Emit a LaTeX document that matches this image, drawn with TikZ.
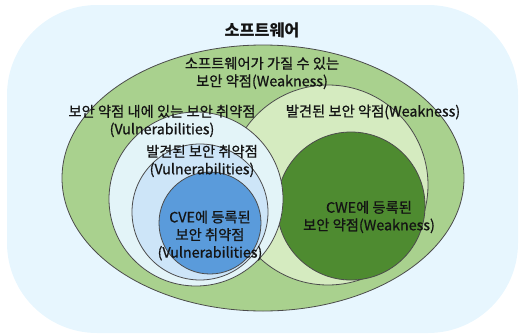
\documentclass[tikz,border=0pt]{standalone}
\usepackage{fontspec}
\setmainfont{Noto Sans CJK KR}[FakeBold=0.8]
\newfontfamily\titlefont{Noto Sans CJK KR}
\begin{document}
\begin{tikzpicture}[x=1pt,y=-1pt,
  every node/.style={font=\fontsize{14.3}{17.6}\selectfont, align=center, inner sep=0pt, text=black!92},
  ring/.style={draw=black!70, line width=0.8pt},
  title/.style={font=\titlefont\bfseries\fontsize{16.3}{20}\selectfont}]
\definecolor{bgblue}{HTML}{E7F6FE}
\definecolor{grn}{HTML}{A9D18E}
\definecolor{ltgrn}{HTML}{D5EBC0}
\definecolor{dkgrn}{HTML}{4E8B30}
\definecolor{paleblue}{HTML}{E3F4F8}
\definecolor{ltblue}{HTML}{CDE5F8}
\definecolor{midblue}{HTML}{5A9BDB}
\useasboundingbox (0,0) rectangle (524,335);
% background
\fill[bgblue, rounded corners=90pt] (7,5) rectangle (518,333);
% ellipses / circles
\draw[ring, fill=grn] (263,178) ellipse[x radius=201, y radius=133];
\draw[ring, fill=ltgrn] (328,185) circle[radius=100];
\draw[ring, fill=dkgrn] (351,206) circle[radius=74];
\draw[ring, fill=paleblue] (196,199) circle[radius=87];
\draw[ring, fill=ltblue] (200,212) circle[radius=68];
\draw[ring, fill=midblue] (210,223) circle[radius=51];
% labels
\node[title] (sw) at (262,30) {소프트웨어};
\node (weak) at (262,73) {소프트웨어가 가질 수 있는\\보안 약점(Weakness)};
\node (vul) at (162,121) {보안 약점 내에 있는 보안 취약점\\(Vulnerabilities)};
\node (fweak) at (373,112) {발견된 보안 약점(Weakness)};
\node (fvul) at (202,161) {발견된 보안 취약점\\(Vulnerabilities)};
\node (cve) at (210,235.5) {CVE에 등록된\\보안 취약점\\(Vulnerabilities)};
\node (cwe) at (369,217) {CWE에 등록된\\보안 약점(Weakness)};
\end{tikzpicture}
\end{document}
